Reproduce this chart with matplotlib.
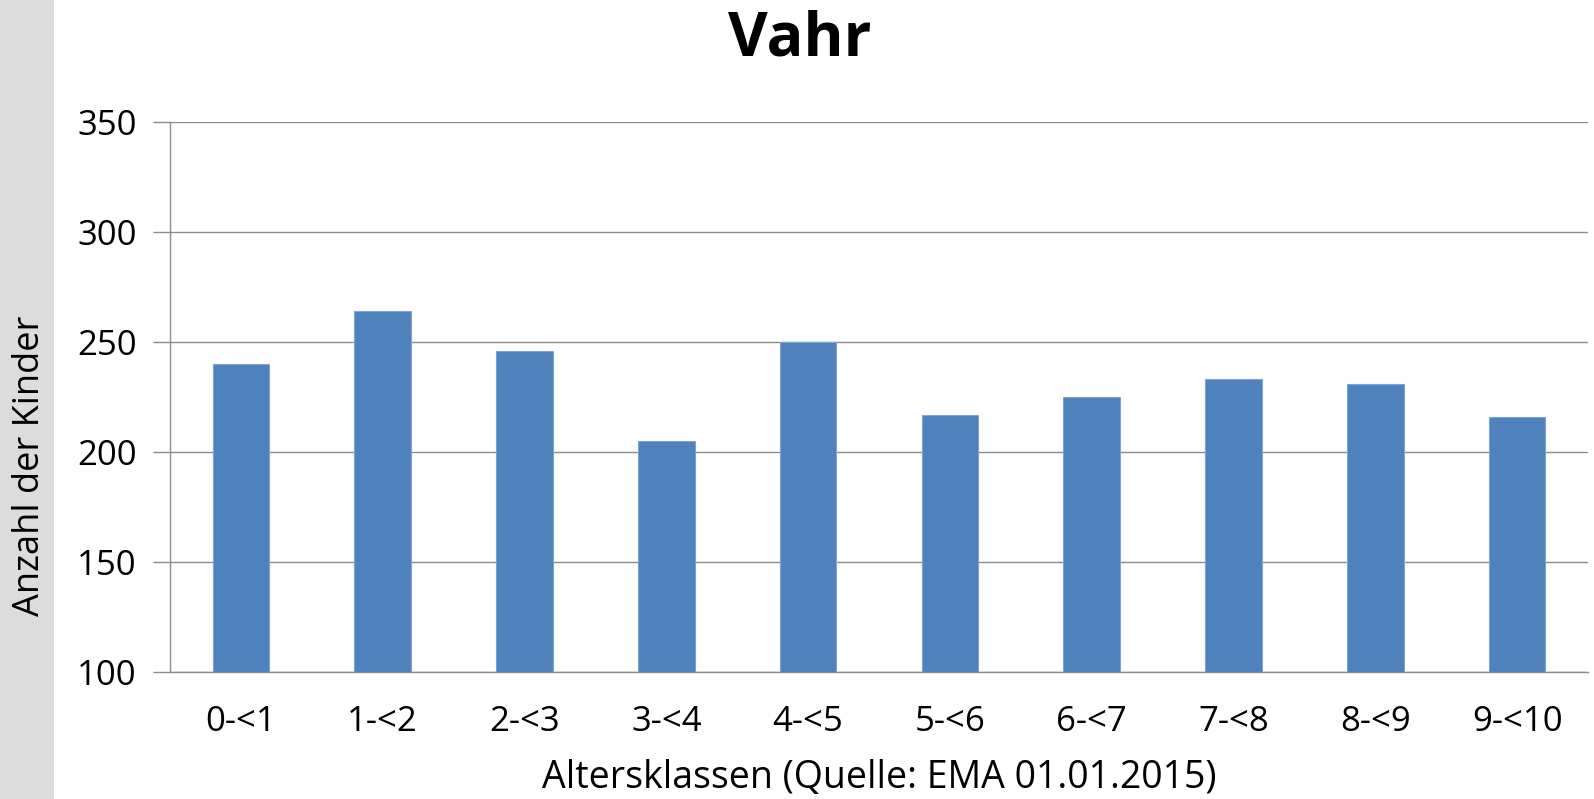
import matplotlib.pyplot as plt
from matplotlib.patches import Rectangle

# Altersklassen und Anzahl der Kinder (Vahr, EMA 01.01.2015)
categories = ['0-<1', '1-<2', '2-<3', '3-<4', '4-<5', '5-<6', '6-<7', '7-<8', '8-<9', '9-<10']
counts = [240, 264, 246, 205, 250, 217, 225, 233, 231, 216]
y_ticks = [100, 150, 200, 250, 300, 350]

plt.rcParams['font.family'] = ['Open Sans', 'DejaVu Sans']

W, H = 1594, 799
fig = plt.figure(figsize=(W / 100, H / 100), dpi=100)

# grauer Streifen links
fig.patches.append(Rectangle((0, 0), 54 / W, 1, transform=fig.transFigure,
                             facecolor='#dcdcdc', edgecolor='none', zorder=0))

ax = fig.add_axes([170 / W, 1 - 672 / H, (1588 - 170) / W, (672 - 122) / H])

x = range(len(categories))
ax.bar(x, counts, width=0.4, color='#4f81bd', edgecolor='#7fa3d3', linewidth=0.8, zorder=3)

ax.set_xlim(-0.5, len(categories) - 0.5)
ax.set_ylim(100, 350)
ax.set_yticks(y_ticks)
ax.set_xticks(list(x))
ax.set_xticklabels(categories)

grid_color = '#8c8c8c'
ax.grid(axis='y', color=grid_color, linewidth=1.0, zorder=0)
for side in ['top', 'right']:
    ax.spines[side].set_visible(False)
ax.spines['left'].set_color(grid_color)
ax.spines['bottom'].set_color(grid_color)
ax.spines['left'].set_linewidth(1.0)
ax.spines['bottom'].set_linewidth(1.0)

ax.tick_params(axis='y', length=12, width=1.0, color=grid_color, pad=12, labelsize=25)
ax.tick_params(axis='x', length=0, pad=24, labelsize=25)

ax.set_xlabel('Altersklassen (Quelle: EMA 01.01.2015)', fontsize=27, labelpad=14)

fig.text(30 / W, 1 - 466 / H, 'Anzahl der Kinder', rotation=90, ha='center', va='center',
         fontsize=26)
fig.text(800 / W, 1 - 40 / H, 'Vahr', ha='center', va='center', fontsize=44,
         fontweight='bold')

fig.savefig('out.png', dpi=100)
